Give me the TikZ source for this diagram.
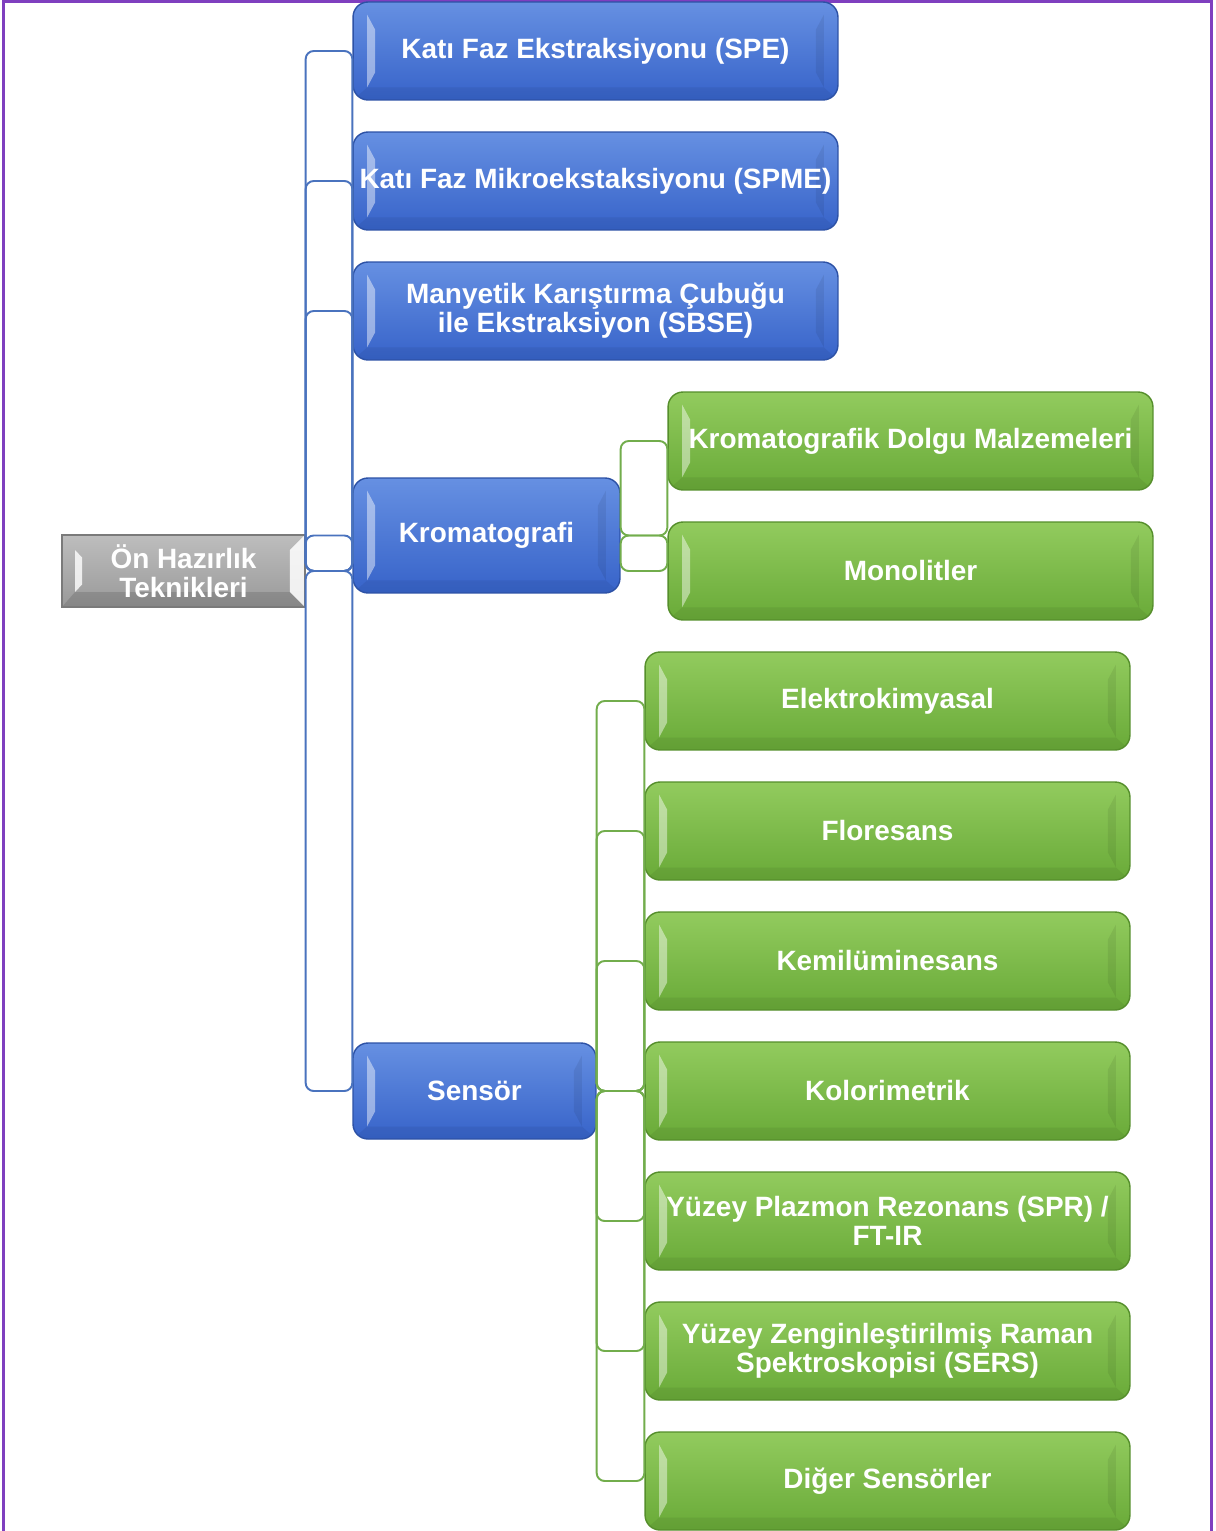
\documentclass[tikz,border=0pt]{standalone}
\usepackage{fontspec}
\setmainfont{Liberation Sans}
\usetikzlibrary{calc}
\definecolor{bluetop}{HTML}{6690E2}
\definecolor{bluebot}{HTML}{3763C9}
\definecolor{blueedge}{HTML}{2D52A6}
\definecolor{greentop}{HTML}{92CB5E}
\definecolor{greenbot}{HTML}{69AA38}
\definecolor{greenedge}{HTML}{568F2C}
\definecolor{greytop}{HTML}{BDBDBD}
\definecolor{greybot}{HTML}{999999}
\definecolor{greyedge}{HTML}{7A7A7A}
\definecolor{bconn}{HTML}{4A73BE}
\definecolor{gconn}{HTML}{72AD4C}
\definecolor{frame}{HTML}{7F3FBF}
\tikzset{
  x=0.02cm, y=-0.02cm,
  boxtext/.style={text=white, font=\fontsize{15.9}{16.5}\selectfont\bfseries, align=center, inner sep=0pt},
  hilite/.style={path picture={
      \fill[sharp corners,white,opacity=0.45] ($(path picture bounding box.north west)+(0.28cm,-0.25cm)$) --
        ($(path picture bounding box.north west)+(0.44cm,-0.55cm)$) --
        ($(path picture bounding box.south west)+(0.44cm,0.55cm)$) --
        ($(path picture bounding box.south west)+(0.28cm,0.25cm)$) -- cycle;
      \fill[sharp corners,black,opacity=0.07] ($(path picture bounding box.north east)+(-0.28cm,-0.25cm)$) --
        ($(path picture bounding box.north east)+(-0.44cm,-0.55cm)$) --
        ($(path picture bounding box.south east)+(-0.44cm,0.55cm)$) --
        ($(path picture bounding box.south east)+(-0.28cm,0.25cm)$) -- cycle;
      \fill[sharp corners,black,opacity=0.06] ($(path picture bounding box.south west)+(0.28cm,0.25cm)$) --
        ($(path picture bounding box.south east)+(-0.28cm,0.25cm)$) --
        ($(path picture bounding box.south east)$) -- ($(path picture bounding box.south west)$) -- cycle;
  }},
  bluebox/.style={boxtext, rounded corners=0.3cm, draw=blueedge, line width=0.8pt,
    top color=bluetop, bottom color=bluebot, hilite},
  greenbox/.style={boxtext, rounded corners=0.3cm, draw=greenedge, line width=0.8pt,
    top color=greentop, bottom color=greenbot, hilite},
  rootbox/.style={boxtext, draw=greyedge, line width=0.8pt,
    top color=greytop, bottom color=greybot,
    minimum width=4.86cm, minimum height=1.44cm,
    path picture={
      \fill[white,opacity=0.8] ($(path picture bounding box.north west)+(0.26cm,-0.3cm)$) --
        ($(path picture bounding box.north west)+(0.4cm,-0.45cm)$) --
        ($(path picture bounding box.south west)+(0.4cm,0.45cm)$) --
        ($(path picture bounding box.south west)+(0.26cm,0.3cm)$) -- cycle;
      \fill[white,opacity=0.85] ($(path picture bounding box.north east)$) --
        ($(path picture bounding box.north east)+(-0.3cm,-0.3cm)$) --
        ($(path picture bounding box.south east)+(-0.3cm,0.3cm)$) --
        ($(path picture bounding box.south east)$) -- cycle;
      \fill[black,opacity=0.12] ($(path picture bounding box.south west)$) --
        ($(path picture bounding box.south west)+(0.26cm,0.3cm)$) --
        ($(path picture bounding box.south east)+(-0.3cm,0.3cm)$) --
        ($(path picture bounding box.south east)$) -- cycle;
    }},
  wide/.style={minimum width=9.7cm, minimum height=1.96cm},
  bconnector/.style={draw=bconn, line width=1.1pt, rounded corners=0.16cm},
  gconnector/.style={draw=gconn, line width=1.1pt, rounded corners=0.16cm},
}
\begin{document}
\begin{tikzpicture}
\useasboundingbox (0,0) rectangle (1215,1531);
\fill[white] (0,0) rectangle (1215,1531);
\draw[frame, line width=1.6pt] (3.5,1.2) rectangle (1211.5,1560);

% nodes
\node[rootbox] (root) at (183.5,571) {Ön Hazırlık\\Teknikleri};
\node[bluebox, wide] (spe) at (595.5,51) {Katı Faz Ekstraksiyonu (SPE)};
\node[bluebox, wide] (spme) at (595.5,181) {Katı Faz Mikroekstaksiyonu (SPME)};
\node[bluebox, wide] (sbse) at (595.5,311) {Manyetik Karıştırma Çubuğu\\ile Ekstraksiyon (SBSE)};
\node[bluebox, minimum width=5.34cm, minimum height=2.3cm] (krom) at (486.5,535.5) {Kromatografi};
\node[bluebox, minimum width=4.86cm, minimum height=1.92cm] (sens) at (474.5,1091) {Sensör};
\node[greenbox, wide] (kdm) at (910.5,441) {Kromatografik Dolgu Malzemeleri};
\node[greenbox, wide] (mono) at (910.5,571) {Monolitler};
\node[greenbox, wide] (elk) at (887.5,701) {Elektrokimyasal};
\node[greenbox, wide] (flo) at (887.5,831) {Floresans};
\node[greenbox, wide] (kem) at (887.5,961) {Kemilüminesans};
\node[greenbox, wide] (kol) at (887.5,1091) {Kolorimetrik};
\node[greenbox, wide] (spr) at (887.5,1221) {Yüzey Plazmon Rezonans (SPR) /\\FT-IR};
\node[greenbox, wide] (sers) at (887.5,1351) {Yüzey Zenginleştirilmiş Raman\\Spektroskopisi (SERS)};
\node[greenbox, wide] (dig) at (887.5,1481) {Diğer Sensörler};

% connectors
\foreach \c in {spe,spme,sbse,krom,sens}
  \draw[bconnector] (root.east) rectangle (\c.west);
\foreach \c in {kdm,mono}
  \draw[gconnector] (krom.east) rectangle (\c.west);
\foreach \c in {elk,flo,kem,kol,spr,sers,dig}
  \draw[gconnector] (sens.east) rectangle (\c.west);
\end{tikzpicture}
\end{document}
